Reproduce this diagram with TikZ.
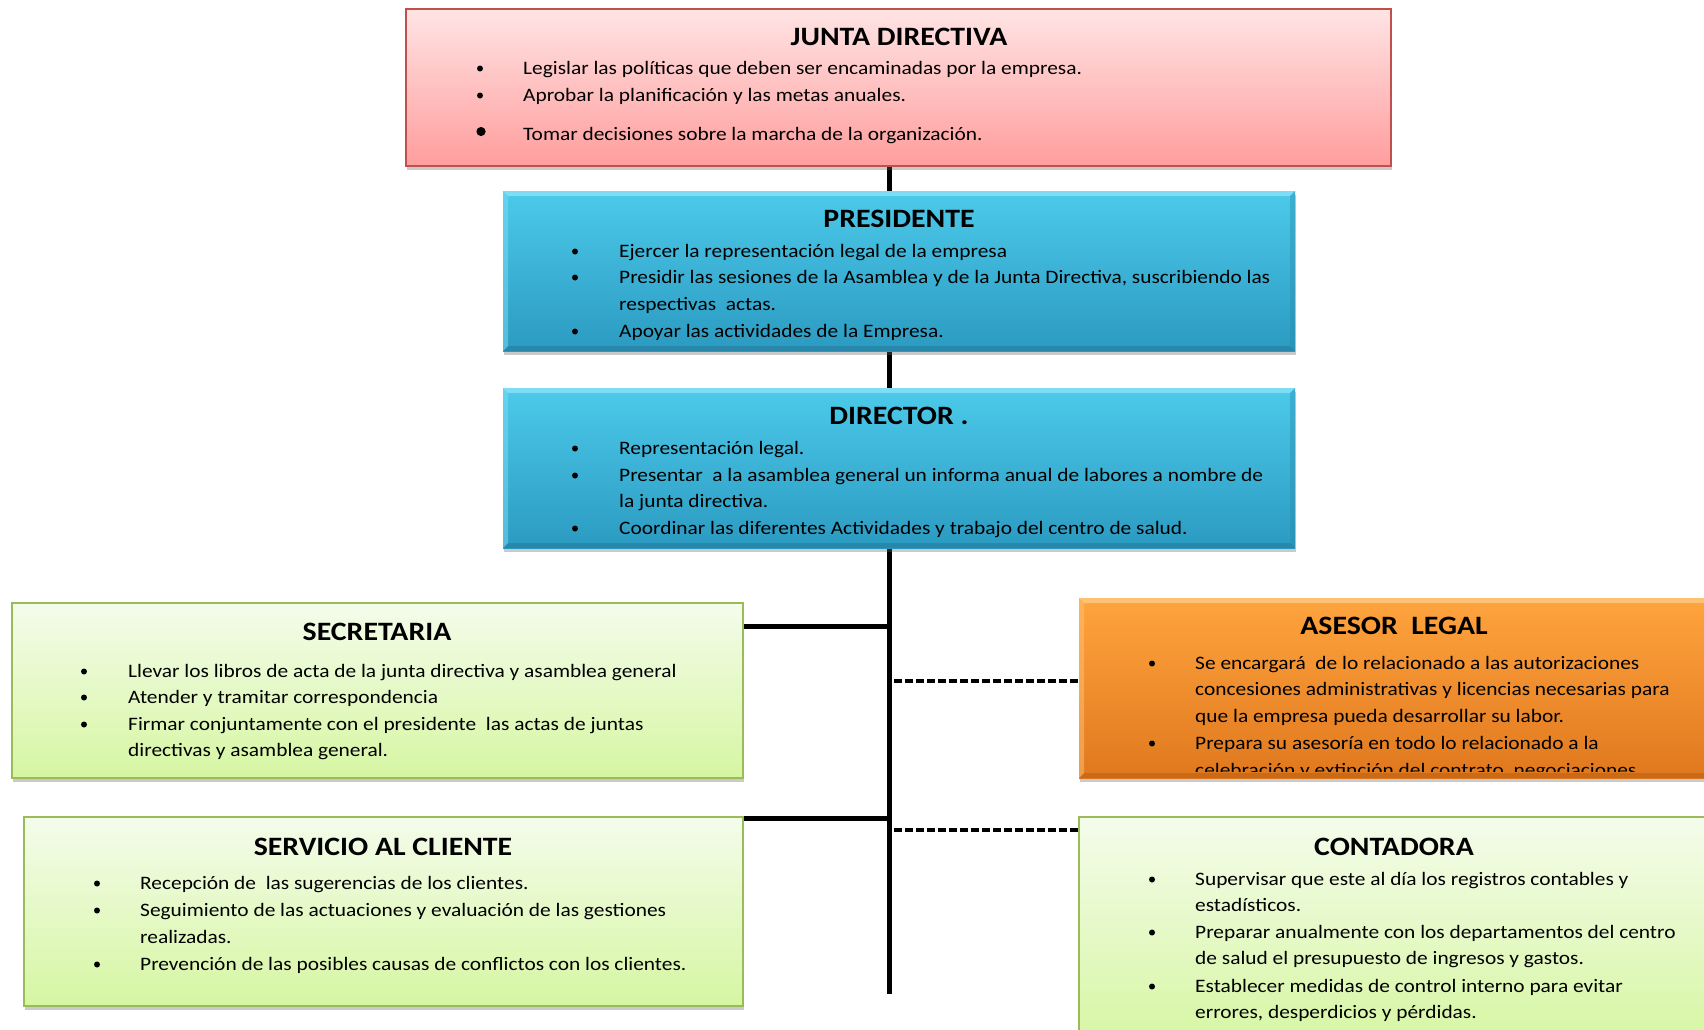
\documentclass[tikz,border=0pt]{standalone}
\usepackage{fontspec}
\setmainfont{Carlito}[FakeStretch=1.125]
\usetikzlibrary{shadows,calc,backgrounds}
\definecolor{pinkT}{HTML}{FFE4E4}
\definecolor{pinkB}{HTML}{FF9D9D}
\definecolor{pinkL}{HTML}{C0504D}
\definecolor{blueT}{HTML}{4CCAEA}
\definecolor{blueB}{HTML}{2B9AC1}
\definecolor{blueL}{HTML}{7CDDF5}
\definecolor{blueD}{HTML}{2788AB}
\definecolor{greenT}{HTML}{F4FCEB}
\definecolor{greenB}{HTML}{D6F6A2}
\definecolor{greenL}{HTML}{9BBB59}
\definecolor{orT}{HTML}{FFA43E}
\definecolor{orB}{HTML}{E0781E}
\definecolor{orL}{HTML}{FFC274}
\definecolor{orD}{HTML}{C96A18}
\newcommand\bevelbox[4]{%
  \fill[#3] (#1.north west) -- (#1.north east) -- ($(#1.north east)+(-#2,#2)$) -- ($(#1.north west)+(#2,#2)$) -- cycle;
  \fill[#4] (#1.south west) -- (#1.south east) -- ($(#1.south east)+(-#2,-#2)$) -- ($(#1.south west)+(#2,-#2)$) -- cycle;
  \fill[#3,opacity=0.5] (#1.north west) -- ($(#1.north west)+(#2,#2)$) -- ($(#1.south west)+(#2,-#2)$) -- (#1.south west) -- cycle;
  \fill[#4,opacity=0.4] (#1.north east) -- ($(#1.north east)+(-#2,#2)$) -- ($(#1.south east)+(-#2,-#2)$) -- (#1.south east) -- cycle;
}
\newcommand\bdot[3]{\fill (#1,#2) circle (#3);}
\tikzset{
  boxbase/.style={anchor=north west, inner sep=0, outer sep=0,
    drop shadow={shadow xshift=1pt, shadow yshift=-4pt, opacity=0.35, fill=black!60}},
  pinkbox/.style={boxbase, draw=pinkL, line width=1.5pt, top color=pinkT, bottom color=pinkB},
  bluebox/.style={boxbase, top color=blueT, bottom color=blueB},
  greenbox/.style={boxbase, draw=greenL, line width=2pt, top color=greenT, bottom color=greenB},
  orbox/.style={boxbase, top color=orT, bottom color=orB},
  body/.style={anchor=base west, inner sep=0, font=\fontsize{19}{26.7}\selectfont, text=black},
  ttl/.style={anchor=base, inner sep=0, font=\bfseries\fontsize{26.5}{30}\selectfont, text=black},
  solidlink/.style={line width=5pt, black},
  dashlink/.style={line width=4pt, black, dash pattern=on 8pt off 3pt}
}
\begin{document}
\begin{tikzpicture}[x=1pt,y=-1pt]
\useasboundingbox (0,0) rectangle (1704,1029);
% boxes
\node[pinkbox, minimum width=985pt, minimum height=157pt] (junta) at (406,9) {};
\node[bluebox, minimum width=792pt, minimum height=160pt] (presidente) at (503,191) {};
\bevelbox{presidente}{5}{blueL}{blueD}
\node[bluebox, minimum width=792pt, minimum height=160pt] (director) at (503,388) {};
\bevelbox{director}{5}{blueL}{blueD}
\node[greenbox, minimum width=731pt, minimum height=175pt] (secretaria) at (12,603) {};
\node[greenbox, minimum width=719pt, minimum height=189pt] (servicio) at (24,817) {};
\node[orbox, minimum width=640pt, minimum height=180pt] (asesor) at (1079,598) {};
\bevelbox{asesor}{5}{orL}{orD}
\node[greenbox, minimum width=640pt, minimum height=230pt] (contadora) at (1079,817) {};

% connectors
\coordinate (spinebot) at (889,994);
\coordinate (s1) at (889,626.5);
\coordinate (s2) at (889,818);
\coordinate (d1) at (894,681);
\coordinate (d2) at (894,830);
\begin{pgfonlayer}{background}
\draw[solidlink] (junta.south -| spinebot) -- (spinebot);
\draw[solidlink] (s1) -- (s1 -| secretaria.east);
\draw[solidlink] (s2) -- (s2 -| servicio.east);
\end{pgfonlayer}
\draw[dashlink] (d1) -- (d1 -| asesor.west);
\draw[dashlink] (d2) -- (d2 -| contadora.west);

% JUNTA DIRECTIVA
\node[ttl] (jt) at (899,45.5) {JUNTA DIRECTIVA};
\bdot{480}{68.5}{3} \node[body] (j1) at (523,74) {Legislar las políticas que deben ser encaminadas por la empresa.};
\bdot{480}{95.5}{3} \node[body] (j2) at (523,101) {Aprobar la planificación y las metas anuales.};
\bdot{481}{131.5}{4.6} \node[body] (j3) at (523,140) {Tomar decisiones sobre la marcha de la organización.};

% PRESIDENTE
\node[ttl] (pt) at (899,227) {PRESIDENTE};
\bdot{575}{251.5}{3} \node[body] (p1) at (619,257) {Ejercer la representación legal de la empresa};
\bdot{575}{277.5}{3} \node[body] (p2) at (619,283.5) {Presidir las sesiones de la Asamblea y de la Junta Directiva, suscribiendo las};
\node[body] (p3) at (619,310) {respectivas\ \ actas.};
\bdot{575}{331.5}{3} \node[body] (p4) at (619,337) {Apoyar las actividades de la Empresa.};

% DIRECTOR
\node[ttl] (dt) at (899,424.5) {DIRECTOR .};
\bdot{575}{448.5}{3} \node[body] (r1) at (619,454) {Representación legal.};
\bdot{575}{475.5}{3} \node[body] (r2) at (619,481) {Presentar\ \ a la asamblea general un informa anual de labores a nombre de};
\node[body] (r3) at (619,507.5) {la junta directiva.};
\bdot{575}{528.5}{3} \node[body] (r4) at (619,534) {Coordinar las diferentes Actividades y trabajo del centro de salud.};

% SECRETARIA
\node[ttl] (st) at (377,640) {SECRETARIA};
\bdot{84}{671.5}{3} \node[body] (s1t) at (128,677) {Llevar los libros de acta de la junta directiva y asamblea general};
\bdot{84}{697.5}{3} \node[body] (s2t) at (128,703) {Atender y tramitar correspondencia};
\bdot{84}{724.5}{3} \node[body] (s3t) at (128,730) {Firmar conjuntamente con el presidente\ \ las actas de juntas};
\node[body] (s4t) at (128,756) {directivas y asamblea general.};

% SERVICIO AL CLIENTE
\node[ttl] (ct) at (383,855) {SERVICIO AL CLIENTE};
\bdot{97}{883.5}{3} \node[body] (c1) at (140,889) {Recepción de\ \ las sugerencias de los clientes.};
\bdot{97}{910.5}{3} \node[body] (c2) at (140,916) {Seguimiento de las actuaciones y evaluación de las gestiones};
\node[body] (c3) at (140,943) {realizadas.};
\bdot{97}{964.5}{3} \node[body] (c4) at (140,970) {Prevención de las posibles causas de conflictos con los clientes.};

% ASESOR LEGAL
\node[ttl] (at) at (1394,634.5) {ASESOR\ \ LEGAL};
\begin{scope}
\clip (1079,598) rectangle (1704,771);
\bdot{1152}{663.5}{3} \node[body] (a1) at (1195,669) {Se encargará\ \ de lo relacionado a las autorizaciones};
\node[body] (a2) at (1195,695.5) {concesiones administrativas y licencias necesarias para};
\node[body] (a3) at (1195,722) {que la empresa pueda desarrollar su labor.};
\bdot{1152}{743.5}{3} \node[body] (a4) at (1195,749) {Prepara su asesoría en todo lo relacionado a la};
\node[body] (a5) at (1195,776) {celebración y extinción del contrato, negociaciones};
\end{scope}

% CONTADORA
\node[ttl] (kt) at (1394,855) {CONTADORA};
\bdot{1152}{879.5}{3} \node[body] (k1) at (1195,885) {Supervisar que este al día los registros contables y};
\node[body] (k2) at (1195,911) {estadísticos.};
\bdot{1152}{932.5}{3} \node[body] (k3) at (1195,938) {Preparar anualmente con los departamentos del centro};
\node[body] (k4) at (1195,964.5) {de salud el presupuesto de ingresos y gastos.};
\bdot{1152}{986.5}{3} \node[body] (k5) at (1195,992) {Establecer medidas de control interno para evitar};
\node[body] (k6) at (1195,1018) {errores, desperdicios y pérdidas.};
\end{tikzpicture}
\end{document}
